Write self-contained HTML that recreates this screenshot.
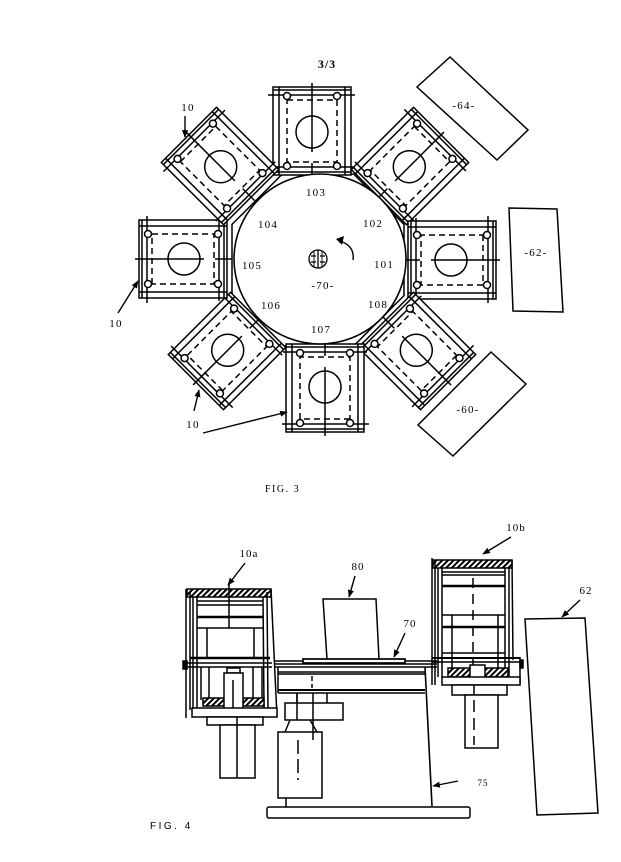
<!DOCTYPE html>
<html><head><meta charset="utf-8"><style>
html,body{margin:0;padding:0;background:#fff;}
svg{display:block;}
text{font-family:"Liberation Serif",serif;fill:#000;}
</style></head><body>
<svg width="621" height="862" viewBox="0 0 621 862" xmlns="http://www.w3.org/2000/svg">
<defs>
<pattern id="h" width="4" height="4" patternUnits="userSpaceOnUse" patternTransform="rotate(45)">
<rect width="4" height="4" fill="#fff"/><line x1="1" y1="0" x2="1" y2="4" stroke="#000" stroke-width="2"/></pattern>
<marker id="ar" viewBox="0 0 10 10" refX="9" refY="5" markerWidth="5.5" markerHeight="5.5" orient="auto"><path d="M0,1 L10,5 L0,9 z" fill="#000"/></marker>
<g id="st" fill="none" stroke="#000" stroke-width="1.5">
<rect x="-39" y="-44" width="78" height="88" fill="#fff"/>
<line x1="-33" y1="-44" x2="-33" y2="44"/>
<line x1="33" y1="-44" x2="33" y2="44"/>
<line x1="-39" y1="-41" x2="39" y2="-41"/>
<line x1="-39" y1="41" x2="39" y2="41"/>
<line x1="-44" y1="-36" x2="43" y2="-36"/>
<line x1="-42" y1="36" x2="42" y2="36"/>
<rect x="-25" y="-31" width="50" height="62" stroke-dasharray="6 4"/>
<circle cx="0" cy="1" r="16"/>
<line x1="0" y1="-48" x2="0" y2="21"/>
<line x1="0" y1="32" x2="0" y2="49"/>
<circle cx="-25" cy="-35" r="3.5" fill="#fff"/>
<circle cx="25" cy="-35" r="3.5" fill="#fff"/>
<circle cx="-25" cy="35" r="3.5" fill="#fff"/>
<circle cx="25" cy="35" r="3.5" fill="#fff"/>
</g>
</defs>

<!-- ================= FIG 3 ================= -->
<text x="327" y="68" font-size="12" font-weight="bold" text-anchor="middle" letter-spacing="1">3/3</text>

<g fill="none" stroke="#000" stroke-width="1.5">
<polygon points="353.6,174 404,224.4 404,295.6 353.6,346 282.4,346 232,295.6 232,224.4 282.4,174"/>
</g>

<use href="#st" transform="translate(312,131) rotate(0)"/>
<use href="#st" transform="translate(410,166) rotate(45)"/>
<use href="#st" transform="translate(452,260) rotate(90)"/>
<use href="#st" transform="translate(417,351) rotate(135)"/>
<use href="#st" transform="translate(325,388) rotate(180)"/>
<use href="#st" transform="translate(227,351) rotate(225)"/>
<use href="#st" transform="translate(183,259) rotate(270)"/>
<use href="#st" transform="translate(220,166) rotate(315)"/>

<g fill="#fff" stroke="#000" stroke-width="1.6">
<ellipse cx="320" cy="259" rx="86" ry="85"/>
</g>
<!-- hub -->
<g fill="none" stroke="#000" stroke-width="1.3">
<circle cx="318" cy="259" r="9"/>
<line x1="318" y1="250" x2="318" y2="268"/>
<line x1="311" y1="256" x2="316" y2="256"/><line x1="320" y1="256" x2="325" y2="256"/>
<line x1="311" y1="262" x2="316" y2="262"/><line x1="320" y1="262" x2="325" y2="262"/>
<line x1="314" y1="251" x2="314" y2="267" stroke-width="0.9"/><line x1="322" y1="251" x2="322" y2="267" stroke-width="0.9"/>
</g>
<!-- rotation arrow -->
<path d="M353,260 Q355,246 340,241" fill="none" stroke="#000" stroke-width="1.4"/>
<path d="M336,239 L344,236 L342,245 z" fill="#000"/>

<g font-size="11" text-anchor="middle" letter-spacing="1.2">
<text x="316" y="196">103</text>
<text x="268" y="228">104</text>
<text x="373" y="227">102</text>
<text x="252" y="269">105</text>
<text x="384" y="268">101</text>
<text x="323" y="289">-70-</text>
<text x="271" y="309">106</text>
<text x="378" y="308">108</text>
<text x="321" y="333">107</text>
<text x="464" y="109">-64-</text>
<text x="536" y="256">-62-</text>
<text x="468" y="413">-60-</text>
<text x="188" y="111">10</text>
<text x="116" y="327">10</text>
<text x="193" y="428">10</text>
</g>

<g fill="none" stroke="#000" stroke-width="1.5">
<polygon points="417,87 450,57 528,130 497,160"/>
<polygon points="509,208 557,209 563,312 513,311"/>
<polygon points="491,352 526,384 453,456 418,425"/>
</g>
<g fill="none" stroke="#000" stroke-width="1.4" marker-end="url(#ar)">
<line x1="185" y1="116" x2="185" y2="137"/>
<line x1="118" y1="313" x2="138" y2="281"/>
<line x1="194" y1="411" x2="199" y2="390"/>
<line x1="203" y1="433" x2="287" y2="412"/>
</g>

<text x="265" y="492" font-size="10" letter-spacing="1.5">FIG. 3</text>

<!-- ================= FIG 4 ================= -->
<g fill="none" stroke="#000" stroke-width="1.5">
<!-- 10a station -->
<rect x="187" y="589" width="84" height="8" fill="url(#h)"/>
<line x1="186" y1="589" x2="186" y2="718"/>
<line x1="190" y1="592" x2="190" y2="710"/>
<line x1="193" y1="597" x2="193" y2="708"/>
<line x1="197" y1="597" x2="197" y2="708"/>
<line x1="263" y1="597" x2="264" y2="708"/>
<line x1="267" y1="592" x2="268" y2="708"/>
<line x1="271" y1="589" x2="277" y2="717"/>
<line x1="197" y1="601" x2="263" y2="601"/>
<line x1="197" y1="605" x2="263" y2="605"/>
<line x1="197" y1="617" x2="263" y2="617" stroke-width="2.6"/>
<line x1="197" y1="628" x2="263" y2="628"/>
<line x1="207" y1="628" x2="207" y2="658"/>
<line x1="254" y1="628" x2="254" y2="658"/>
<line x1="229" y1="583" x2="229" y2="628"/>
<line x1="190" y1="658" x2="270" y2="658" stroke-width="2.6"/>
<line x1="186" y1="663" x2="272" y2="663"/>
<line x1="186" y1="667" x2="272" y2="667"/>
<line x1="201" y1="667" x2="201" y2="700"/>
<line x1="209" y1="667" x2="209" y2="698"/>
<line x1="253" y1="667" x2="253" y2="698"/>
<line x1="262" y1="667" x2="262" y2="700"/>
<rect x="203" y="698" width="22" height="8" fill="url(#h)"/>
<rect x="243" y="698" width="21" height="8" fill="url(#h)"/>
<rect x="227" y="668" width="13" height="5" fill="#fff"/>
<rect x="224" y="673" width="19" height="42" fill="#fff"/>
<line x1="233" y1="680" x2="233" y2="712"/>
<rect x="192" y="708" width="85" height="9" fill="#fff"/>
<rect x="207" y="717" width="56" height="8" fill="#fff"/>
<line x1="237" y1="717" x2="237" y2="725"/>
<rect x="220" y="725" width="35" height="53" fill="#fff"/>
<line x1="237" y1="725" x2="237" y2="778"/>
<rect x="183" y="661" width="4" height="8" fill="#000"/>

<!-- table / stand -->
<line x1="275" y1="661" x2="437" y2="661"/>
<line x1="275" y1="664" x2="437" y2="664"/>
<line x1="275" y1="667" x2="437" y2="667"/>
<rect x="303" y="659" width="102" height="4" fill="#fff" stroke-width="1.7"/>
<path d="M327,659 L323,599 L376,599 L379,659"/>
<line x1="278" y1="672" x2="425" y2="672"/>
<line x1="278" y1="674" x2="425" y2="674"/>
<line x1="278" y1="690" x2="425" y2="690" stroke-width="2"/>
<line x1="278" y1="693" x2="425" y2="693"/>
<line x1="278" y1="667" x2="278" y2="693"/>
<line x1="425" y1="667" x2="432" y2="806" stroke-width="1.6"/>
<line x1="312" y1="676" x2="312" y2="688" stroke-dasharray="5 3"/>
<line x1="297" y1="693" x2="297" y2="703"/>
<line x1="327" y1="693" x2="327" y2="703"/>
<rect x="285" y="703" width="58" height="17" fill="#fff"/>
<path d="M290,720 L285,732 M310,720 L317,732"/>
<line x1="297" y1="693" x2="297" y2="720"/>
<line x1="313" y1="693" x2="313" y2="740"/>
<rect x="278" y="732" width="44" height="66" fill="#fff"/>
<line x1="298" y1="740" x2="298" y2="780" stroke-dasharray="14 5"/>
<line x1="313" y1="732" x2="313" y2="740"/>
<line x1="286" y1="798" x2="286" y2="808"/>
<rect x="267" y="807" width="203" height="11" rx="2" fill="#fff"/>

<!-- 10b station -->
<rect x="433" y="560" width="79" height="8" fill="url(#h)"/>
<line x1="432" y1="558" x2="432" y2="685"/>
<line x1="435" y1="560" x2="435" y2="685"/>
<line x1="438" y1="568" x2="438" y2="677"/>
<line x1="442" y1="568" x2="442" y2="677"/>
<line x1="505" y1="568" x2="505" y2="677"/>
<line x1="509" y1="568" x2="509" y2="677"/>
<line x1="512" y1="560" x2="513" y2="660"/>
<line x1="520" y1="657" x2="520" y2="685"/>
<line x1="442" y1="572" x2="505" y2="572"/>
<line x1="442" y1="575" x2="505" y2="575"/>
<line x1="442" y1="586" x2="505" y2="586" stroke-width="2.6"/>
<line x1="442" y1="615" x2="505" y2="615"/>
<line x1="442" y1="627" x2="505" y2="627" stroke-width="2.6"/>
<line x1="442" y1="653" x2="505" y2="653"/>
<line x1="432" y1="658" x2="520" y2="658" stroke-width="2"/>
<line x1="432" y1="662" x2="520" y2="662"/>
<line x1="452" y1="615" x2="452" y2="668"/>
<line x1="498" y1="615" x2="498" y2="668"/>
<line x1="473" y1="578" x2="473" y2="668" stroke-dasharray="10 6"/>
<rect x="448" y="668" width="60" height="9" fill="url(#h)"/>
<rect x="470" y="665" width="15" height="15" fill="#fff"/>
<rect x="442" y="677" width="78" height="8" fill="#fff"/>
<rect x="452" y="685" width="55" height="10" fill="#fff"/>
<line x1="474" y1="685" x2="474" y2="695"/>
<rect x="465" y="695" width="33" height="53" fill="#fff"/>
<line x1="474" y1="700" x2="474" y2="745" stroke-dasharray="12 6"/>
<rect x="520" y="660" width="3" height="8" fill="#000"/>

<!-- 62 -->
<polygon points="525,619 585,618 598,813 537,815"/>
</g>

<g fill="none" stroke="#000" stroke-width="1.4" marker-end="url(#ar)">
<line x1="245" y1="563" x2="228" y2="585"/>
<line x1="511" y1="537" x2="483" y2="554"/>
<line x1="355" y1="576" x2="349" y2="597"/>
<line x1="405" y1="633" x2="394" y2="657"/>
<line x1="580" y1="600" x2="562" y2="617"/>
<line x1="458" y1="781" x2="433" y2="786"/>
</g>

<g font-size="11" text-anchor="middle" letter-spacing="1">
<text x="249" y="557">10a</text>
<text x="516" y="531">10b</text>
<text x="358" y="570">80</text>
<text x="410" y="627">70</text>
<text x="586" y="594">62</text>
<text x="483" y="786" font-size="9">75</text>
</g>
<text x="150" y="829" font-size="10" letter-spacing="2.5" style="font-family:'Liberation Sans',sans-serif">FIG. 4</text>
</svg>
</body></html>
